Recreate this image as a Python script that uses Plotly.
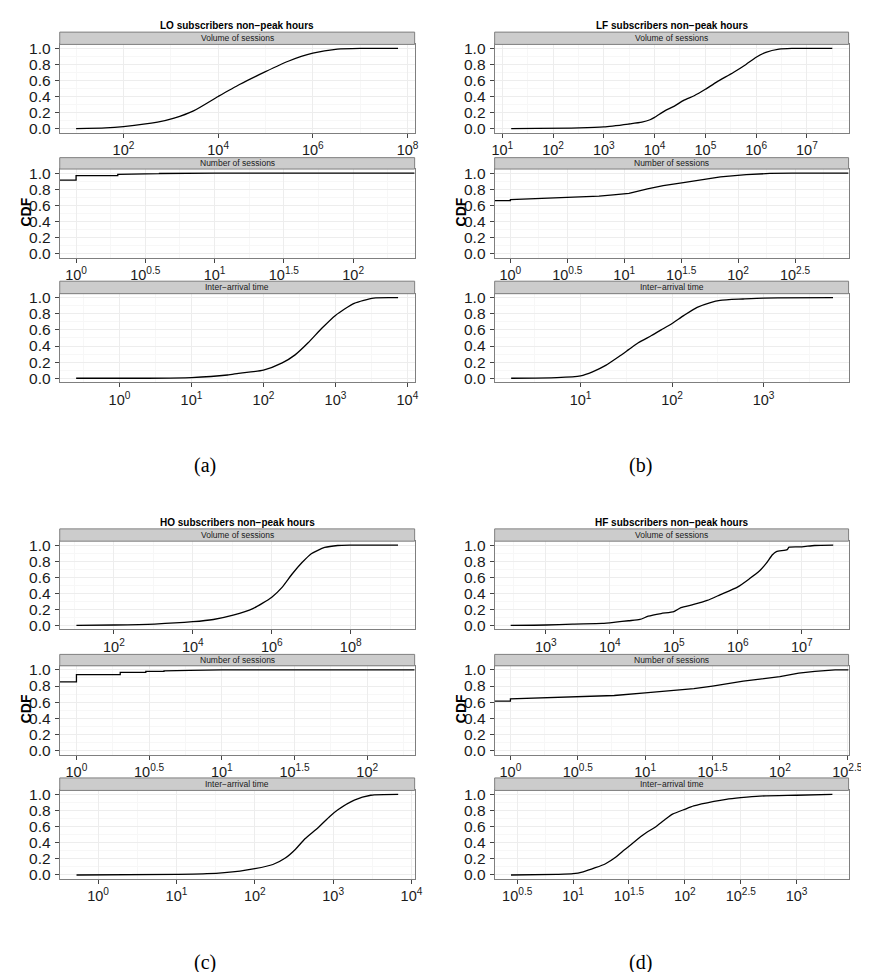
import plotly.graph_objects as go

# ---------------- data ----------------
# Panel (a) LO subscribers
lo_vol_x = [10, 42, 100, 525, 1175, 3020, 10000, 28200, 100000, 302000, 1.0e6, 3.31e6, 1.0e7, 6.3e7]
lo_vol_y = [0.0, 0.008, 0.025, 0.08, 0.13, 0.22, 0.40, 0.55, 0.71, 0.84, 0.94, 0.99, 1.0, 1.0]
lo_num_x = [0.76, 1, 1, 2, 2, 3, 3, 4, 4, 6, 10, 278]
lo_num_y = [0.912, 0.912, 0.968, 0.968, 0.984, 0.984, 0.992, 0.992, 0.995, 0.997, 1.0, 1.0]
lo_iat_x = [0.25, 2.5, 10, 31.6, 45, 100, 182, 275, 417, 646, 1000, 1820, 3390, 7410]
lo_iat_y = [0.0, 0.0, 0.008, 0.04, 0.06, 0.10, 0.19, 0.29, 0.44, 0.62, 0.78, 0.93, 0.995, 1.0]

# Panel (b) LF subscribers
lf_vol_x = [15, 330, 1000, 3090, 5620, 8130, 10000, 15850, 24550, 38000, 60300, 100000,
            166000, 355000, 631000, 1.0e6, 1.55e6, 2.82e6, 5.0e6, 3.16e7]
lf_vol_y = [0.0, 0.008, 0.02, 0.057, 0.08, 0.11, 0.14, 0.22, 0.28, 0.355, 0.41, 0.49,
            0.58, 0.70, 0.80, 0.89, 0.95, 0.99, 1.0, 1.0]
lf_num_x = [0.73, 1, 1, 2, 3, 4, 6, 8, 11, 16, 22, 32, 50, 70, 118, 190, 300, 933]
lf_num_y = [0.66, 0.66, 0.672, 0.688, 0.697, 0.705, 0.716, 0.73, 0.748, 0.806, 0.845, 0.88,
            0.92, 0.952, 0.98, 0.996, 1.0, 1.0]
lf_iat_x = [1.74, 5.5, 10, 13.5, 18.8, 26.3, 33.5, 42.7, 59.6, 75.9, 100, 135, 188, 263,
            335, 596, 1000, 5750]
lf_iat_y = [0.0, 0.008, 0.03, 0.08, 0.16, 0.27, 0.355, 0.44, 0.53, 0.60, 0.68, 0.78, 0.88,
            0.94, 0.967, 0.984, 0.996, 1.0]

# Panel (c) HO subscribers
ho_vol_x = [11.2, 100, 1070, 1.0e4, 33100, 105000, 331000, 1.0e6, 1.82e6, 3.24e6, 5.75e6,
            1.0e7, 2.19e7, 4.68e7, 1.0e8, 1.58e9]
ho_vol_y = [0.0, 0.004, 0.016, 0.045, 0.073, 0.127, 0.208, 0.351, 0.473, 0.637, 0.78,
            0.894, 0.971, 0.996, 1.0, 1.0]
ho_num_x = [0.767, 1, 1, 2, 2, 3, 3, 4, 4, 6, 10, 212]
ho_num_y = [0.852, 0.852, 0.94, 0.94, 0.968, 0.968, 0.98, 0.98, 0.988, 0.994, 1.0, 1.0]
ho_iat_x = [0.53, 10, 24.5, 64.6, 100, 170, 245, 331, 437, 646, 912, 1150, 1860, 3020, 6760]
ho_iat_y = [0.0, 0.008, 0.016, 0.049, 0.078, 0.13, 0.21, 0.32, 0.45, 0.59, 0.73, 0.81,
            0.93, 0.99, 1.0]

# Panel (d) HF subscribers
hf_vol_x = [282, 1000, 2630, 7590, 12300, 19500, 29500, 39800, 63100, 1.0e5, 129000, 204000,
            331000, 525000, 1.0e6, 1.51e6, 2.19e6, 2.75e6, 3.47e6, 4.0e6, 5.9e6, 6.31e6,
            1.0e7, 1.58e7, 3.09e7]
hf_vol_y = [0.0, 0.004, 0.016, 0.024, 0.04, 0.057, 0.073, 0.114, 0.147, 0.171, 0.22, 0.26,
            0.31, 0.38, 0.48, 0.58, 0.68, 0.77, 0.88, 0.92, 0.945, 0.975, 0.98, 0.996, 1.0]
hf_num_x = [0.764, 1, 1, 2, 3.16, 5.9, 10, 18.5, 23, 31.6, 53.5, 100, 138, 182, 257, 324]
hf_num_y = [0.614, 0.614, 0.642, 0.655, 0.663, 0.683, 0.715, 0.756, 0.768, 0.80, 0.86,
            0.915, 0.96, 0.98, 1.0, 1.0]
hf_iat_x = [2.78, 7.14, 10, 12.3, 15.8, 19.5, 24, 27.5, 33.9, 40.7, 45.7, 53.7, 66.1, 77.6,
            100, 120, 182, 234, 316, 468, 1000, 2090]
hf_iat_y = [0.0, 0.008, 0.016, 0.04, 0.09, 0.14, 0.22, 0.29, 0.39, 0.48, 0.53, 0.59, 0.686,
            0.755, 0.816, 0.857, 0.914, 0.94, 0.96, 0.98, 0.99, 1.0]

# tick exponents / labels
exp_even_2_8 = [2, 4, 6, 8]
exp_1_7 = [1, 2, 3, 4, 5, 6, 7]
exp_3_7 = [3, 4, 5, 6, 7]
exp_half_0_2 = [0, 0.5, 1, 1.5, 2]
exp_half_0_25 = [0, 0.5, 1, 1.5, 2, 2.5]
exp_0_4 = [0, 1, 2, 3, 4]
exp_1_3 = [1, 2, 3]
exp_half_05_3 = [0.5, 1, 1.5, 2, 2.5, 3]

panel_titles = ["LO subscribers non\u2212peak hours", "LF subscribers non\u2212peak hours",
                "HO subscribers non\u2212peak hours", "HF subscribers non\u2212peak hours"]
facet_names = ["Volume of sessions", "Number of sessions", "Inter\u2212arrival time"]
captions = ["(a)", "(b)", "(c)", "(d)"]
y_ticks = [0.0, 0.2, 0.4, 0.6, 0.8, 1.0]
y_minor = [0.1, 0.3, 0.5, 0.7, 0.9]

# ---------------- layout geometry (pixels) ----------------
W, H = 869, 972
col_x = [(49.7, 411.7), (493.3, 854.3)]
row_off = [0.0, 501.4]
strip_tops = [19.3, 146.0, 270.7]
plot_tops = [31.7, 157.5, 283.3]
plot_bots = [120.7, 247.3, 372.7]


def fx(p):
    return p / W


def fy(p):
    return 1 - p / H


def fmt_exp(e):
    return "10<sup>%s</sup>" % ("%g" % e)


def minor_exps(major, rng):
    step = major[1] - major[0]
    out = []
    e = major[0] - step / 2
    while e <= rng[1]:
        if e >= rng[0]:
            out.append(e)
        e += step
    return out


panels = [
    dict(col=0, row=0, facets=[
        (lo_vol_x, lo_vol_y, [0.654, 8.15], exp_even_2_8),
        (lo_num_x, lo_num_y, [-0.118, 2.444], exp_half_0_2),
        (lo_iat_x, lo_iat_y, [-0.83, 4.1], exp_0_4)]),
    dict(col=1, row=0, facets=[
        (lf_vol_x, lf_vol_y, [0.85, 7.82], exp_1_7),
        (lf_num_x, lf_num_y, [-0.138, 2.97], exp_half_0_25),
        (lf_iat_x, lf_iat_y, [0.06, 3.93], exp_1_3)]),
    dict(col=0, row=1, facets=[
        (ho_vol_x, ho_vol_y, [0.626, 9.62], exp_even_2_8),
        (ho_num_x, ho_num_y, [-0.115, 2.326], exp_half_0_2),
        (ho_iat_x, ho_iat_y, [-0.49, 4.04], exp_0_4)]),
    dict(col=1, row=1, facets=[
        (hf_vol_x, hf_vol_y, [2.2, 7.73], exp_3_7),
        (hf_num_x, hf_num_y, [-0.117, 2.51], exp_half_0_25),
        (hf_iat_x, hf_iat_y, [0.298, 3.465], exp_half_05_3)]),
]

FONT = "Liberation Sans, Arial, sans-serif"
fig = go.Figure()
shapes, annots = [], []
layout_axes = {}
k = 0
for pi, p in enumerate(panels):
    x0p, x1p = col_x[p["col"]]
    off = row_off[p["row"]]
    annots.append(dict(text="<b>%s</b>" % panel_titles[pi], x=fx((x0p + x1p) / 2), y=fy(off + 13),
                       xref="paper", yref="paper", showarrow=False, xanchor="center", yanchor="middle",
                       font=dict(family=FONT, size=10, color="#000000")))
    annots.append(dict(text="<b>CDF</b>", x=fx(x0p - 34), y=fy(off + 201), xref="paper", yref="paper",
                       showarrow=False, textangle=-90, xanchor="center", yanchor="middle",
                       font=dict(family=FONT, size=14, color="#000000")))
    annots.append(dict(text=captions[pi], x=fx(x0p + 148.5), y=fy(off + 456.5), xref="paper", yref="paper",
                       showarrow=False, xanchor="center", yanchor="middle",
                       font=dict(family="Liberation Serif, DejaVu Serif, serif", size=20, color="#000000")))
    for fi, (xs, ys, xr, texps) in enumerate(p["facets"]):
        k += 1
        st, pt, pb = strip_tops[fi] + off, plot_tops[fi] + off, plot_bots[fi] + off
        smooth = fi != 1
        fig.add_trace(go.Scatter(x=xs, y=ys, mode="lines", xaxis="x%d" % k, yaxis="y%d" % k,
                                 line=dict(color="#000000", width=1.3,
                                           shape="spline" if smooth else "linear",
                                           smoothing=0.6 if smooth else None),
                                 showlegend=False, hoverinfo="skip"))
        mins = minor_exps(texps, xr)
        layout_axes["xaxis%d" % k] = dict(
            type="log", domain=[fx(x0p), fx(x1p)], range=xr, anchor="y%d" % k,
            tickmode="array", tickvals=[10 ** e for e in texps], ticktext=[fmt_exp(e) for e in texps],
            showgrid=True, gridcolor="#EDEDED", gridwidth=1, zeroline=False,
            showline=True, linecolor="#7F7F7F", linewidth=1, mirror=True,
            ticks="outside", ticklen=4, tickwidth=1, tickcolor="#444444",
            tickfont=dict(family=FONT, size=14.5, color="#1a1a1a"), ticklabelstandoff=0,
            minor=dict(tickmode="array", tickvals=[10 ** e for e in mins], showgrid=True,
                       gridcolor="#F7F7F7", gridwidth=1, ticks=""),
            fixedrange=True)
        layout_axes["yaxis%d" % k] = dict(
            domain=[fy(pb), fy(pt)], range=[-0.05, 1.05], anchor="x%d" % k,
            tickmode="array", tickvals=y_ticks, tickformat=".1f",
            showgrid=True, gridcolor="#EDEDED", gridwidth=1, zeroline=False,
            showline=True, linecolor="#7F7F7F", linewidth=1, mirror=True,
            ticks="outside", ticklen=4, tickwidth=1, tickcolor="#444444",
            tickfont=dict(family=FONT, size=15.5, color="#1a1a1a"), ticklabelstandoff=1,
            minor=dict(tickmode="array", tickvals=y_minor, showgrid=True,
                       gridcolor="#F7F7F7", gridwidth=1, ticks=""),
            fixedrange=True)
        shapes.append(dict(type="rect", xref="paper", yref="paper", x0=fx(x0p), x1=fx(x1p),
                           y0=fy(pt), y1=fy(st), fillcolor="#CCCCCC",
                           line=dict(color="#7F7F7F", width=1), layer="above"))
        annots.append(dict(text=facet_names[fi], x=fx((x0p + x1p) / 2), y=fy((st + pt) / 2),
                           xref="paper", yref="paper", showarrow=False, xanchor="center",
                           yanchor="middle", font=dict(family=FONT, size=8.5, color="#1a1a1a")))

fig.update_layout(width=W, height=H, margin=dict(l=0, r=0, t=0, b=0), autosize=False,
                  paper_bgcolor="white", plot_bgcolor="white", shapes=shapes, annotations=annots,
                  showlegend=False, **layout_axes)
fig.write_html("out.html")
